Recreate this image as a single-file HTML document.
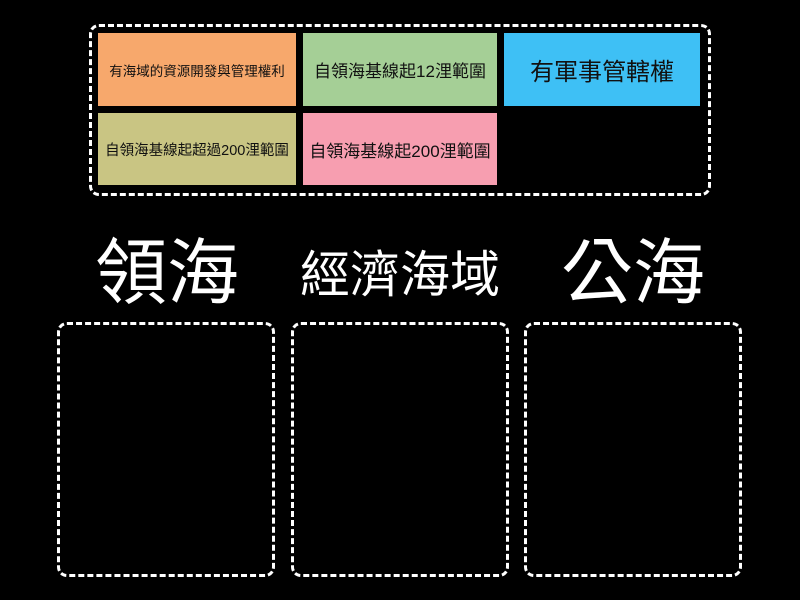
<!DOCTYPE html>
<html><head><meta charset="utf-8"><style>
body{margin:0;width:800px;height:600px;background:#000;position:relative;overflow:hidden;font-family:"Liberation Sans","Noto Sans CJK TC",sans-serif}
.a{position:absolute;box-sizing:border-box}
.d{border:3px dashed #fff;border-radius:10px}
.c{display:flex;align-items:center;justify-content:center;color:#111;white-space:nowrap}
.t{color:#fff;text-align:center;line-height:1}
</style></head><body>
<div class="a d" style="left:89px;top:24px;width:622px;height:172px"></div>
<div class="a c" style="left:98px;top:33px;width:198px;height:73px;background:#f7a86c;font-size:13.5px">有海域的資源開發與管理權利</div>
<div class="a c" style="left:303px;top:33px;width:194px;height:73px;background:#a5cf96;font-size:17px">自領海基線起12浬範圍</div>
<div class="a c" style="left:504px;top:33px;width:196px;height:73px;background:#3ec0f5;font-size:24px">有軍事管轄權</div>
<div class="a c" style="left:98px;top:113px;width:198px;height:72px;background:#c9c583;font-size:14.5px">自領海基線起超過200浬範圍</div>
<div class="a c" style="left:303px;top:113px;width:194px;height:72px;background:#f79eb0;font-size:17px">自領海基線起200浬範圍</div>
<div class="a t" style="left:67px;top:238px;width:200px;font-size:72px">領海</div>
<div class="a t" style="left:292px;top:250px;width:216px;font-size:50px">經濟海域</div>
<div class="a t" style="left:533px;top:238px;width:200px;font-size:72px">公海</div>
<div class="a d" style="left:57px;top:322px;width:218px;height:255px"></div>
<div class="a d" style="left:291px;top:322px;width:218px;height:255px"></div>
<div class="a d" style="left:524px;top:322px;width:218px;height:255px"></div>
</body></html>
